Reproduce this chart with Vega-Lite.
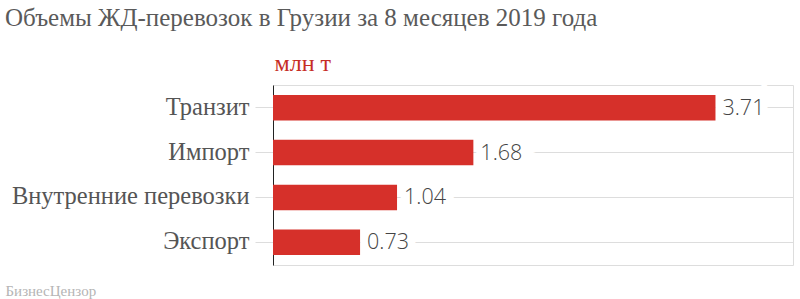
{
  "$schema": "https://vega.github.io/schema/vega-lite/v6.json",
  "width": 520,
  "height": 180,
  "autosize": {"type": "none"},
  "padding": {"left": 273, "top": 85, "right": 7, "bottom": 34},
  "background": "white",
  "title": {
    "text": "Объемы ЖД-перевозок в Грузии за 8 месяцев 2019 года",
    "anchor": "start",
    "frame": "group",
    "dx": -268,
    "font": "Liberation Serif",
    "fontSize": 25,
    "fontWeight": "normal",
    "color": "#5a5a5a",
    "offset": 20
  },
  "data": {
    "values": [
      {"category": "Транзит", "value": 3.71},
      {"category": "Импорт", "value": 1.68},
      {"category": "Внутренние перевозки", "value": 1.04},
      {"category": "Экспорт", "value": 0.73}
    ]
  },
  "encoding": {
    "y": {
      "field": "category",
      "type": "nominal",
      "sort": null,
      "scale": {"paddingInner": 0.43, "paddingOuter": 0.22},
      "axis": {
        "title": "БизнесЦензор",
        "titleAngle": 0,
        "titleX": -268,
        "titleY": 205,
        "titleAlign": "left",
        "titleBaseline": "middle",
        "titleFont": "Liberation Serif",
        "titleFontSize": 15,
        "titleFontWeight": "normal",
        "titleColor": "#b5b5b5",
        "labelFont": "Liberation Serif",
        "labelFontSize": 24.5,
        "labelLimit": 400,
        "labelColor": "#555555",
        "labelPadding": 6,
        "bandPosition": 0.5,
        "ticks": true,
        "tickSize": 18,
        "tickColor": "#dddddd",
        "grid": true,
        "gridColor": "#dddddd",
        "gridWidth": 1,
        "domain": true,
        "domainColor": "#222222",
        "domainWidth": 1
      }
    }
  },
  "layer": [
    {
      "mark": {
        "type": "text",
        "align": "left",
        "baseline": "middle",
        "dx": 7,
        "dy": 1,
        "font": "Open Sans",
        "fontWeight": 300,
        "fontSize": 21.5,
        "stroke": "white",
        "strokeWidth": 16,
        "fill": "white"
      },
      "encoding": {
        "x": {
          "field": "value",
          "type": "quantitative",
          "scale": {"domain": [0, 4.36], "nice": false},
          "axis": {
            "orient": "top",
            "title": "млн т",
            "titleAnchor": "start",
            "titleAlign": "left",
            "titleX": 1,
            "titleY": -15,
            "titleBaseline": "alphabetic",
            "titleFont": "Liberation Serif",
            "titleFontSize": 24,
            "titleFontWeight": "normal",
            "titleColor": "#c62d25",
            "labels": false,
            "ticks": false,
            "domain": false,
            "grid": false
          }
        },
        "text": {"field": "value", "type": "quantitative", "format": ".2f"}
      }
    },
    {
      "mark": {"type": "bar", "color": "#d6302a"},
      "encoding": {
        "x": {"field": "value", "type": "quantitative"}
      }
    },
    {
      "mark": {
        "type": "text",
        "align": "left",
        "baseline": "middle",
        "dx": 7,
        "dy": 1,
        "font": "Open Sans",
        "fontWeight": 300,
        "fontSize": 21.5,
        "color": "#444444"
      },
      "encoding": {
        "x": {"field": "value", "type": "quantitative"},
        "text": {"field": "value", "type": "quantitative", "format": ".2f"}
      }
    }
  ]
}
